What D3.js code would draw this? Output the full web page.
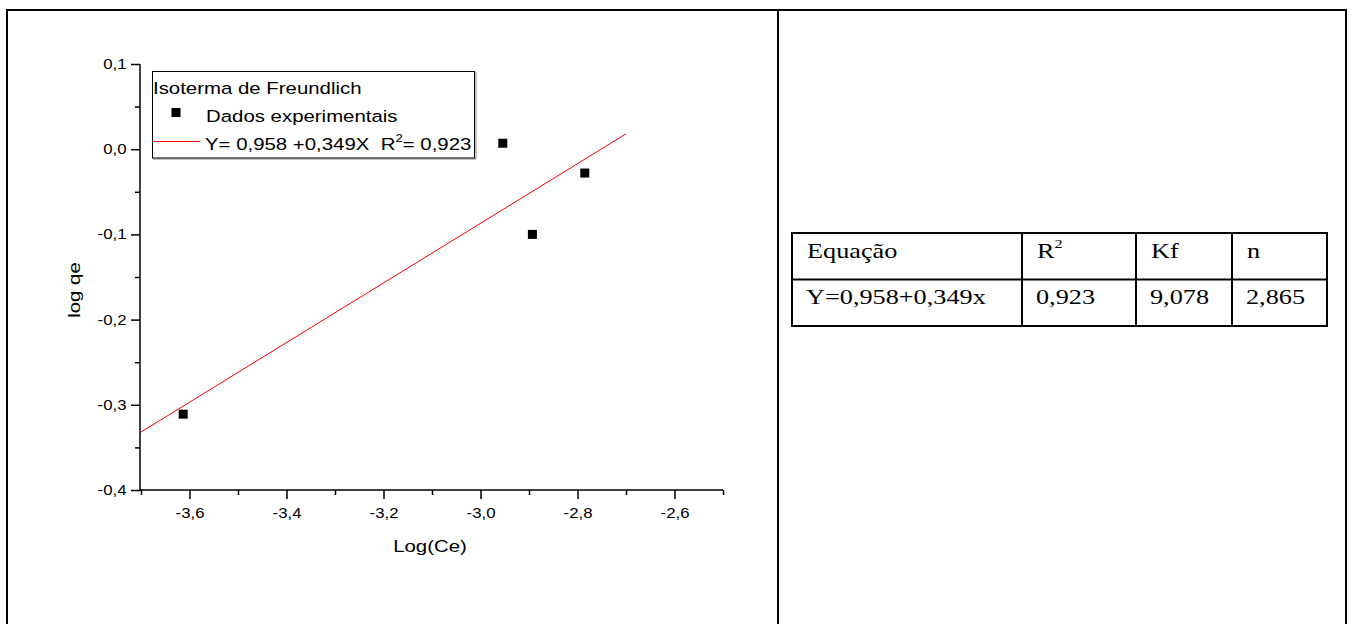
<!DOCTYPE html>
<html>
<head>
<meta charset="utf-8">
<script src="https://cdn.jsdelivr.net/npm/d3@7"></script>
<style>
  body { margin: 0; background: #fff; }
  svg text { white-space: pre; }
</style>
</head>
<body>
<svg id="chart" width="1352" height="624"></svg>
<script>
// data
const logCe = [-3.613, -2.954, -2.893, -2.785];
const logQe = [-0.311, 0.007, -0.100, -0.028];
const fitX = [-3.7, -2.7];
const fitY = [-0.332, 0.018];
const xMajor = [-3.6, -3.4, -3.2, -3.0, -2.8, -2.6];
const xMinor = [-3.7, -3.5, -3.3, -3.1, -2.9, -2.7, -2.5];
const yMajor = [-0.4, -0.3, -0.2, -0.1, 0.0, 0.1];
const yMinor = [-0.35, -0.25, -0.15, -0.05, 0.05];
const legendTitle = 'Isoterma de Freundlich';
const legendPoints = 'Dados experimentais';
const legendFit = ['Y= 0,958 +0,349X  R', '2', '= 0,923'];
const tableHeaders = ['Equação', 'R', 'Kf', 'n'];
const tableValues = ['Y=0,958+0,349x', '0,923', '9,078', '2,865'];

const svg = d3.select('#chart');
const sans = "'Liberation Sans', Arial, sans-serif";
const serif = "'Liberation Serif', 'Times New Roman', serif";

// text in the source is a bit wider than normal, stretch it
const stext = (parent, x, y, str, size, sx, family, anchor) => {
  let g = parent.append('g')
    .attr('transform', `translate(${x},${y}) scale(${sx},1)`);
  return g.append('text')
    .attr('font-family', family)
    .attr('font-size', size)
    .attr('text-anchor', anchor || 'start')
    .attr('fill', '#000')
    .text(str);
};

// outer frame
const frame = svg.append('g').attr('stroke', '#000').attr('stroke-width', 2);
frame.append('line').attr('x1', 6).attr('y1', 10).attr('x2', 1347).attr('y2', 10);
frame.append('line').attr('x1', 7).attr('y1', 10).attr('x2', 7).attr('y2', 624);
frame.append('line').attr('x1', 778).attr('y1', 10).attr('x2', 778).attr('y2', 624);
frame.append('line').attr('x1', 1346).attr('y1', 10).attr('x2', 1346).attr('y2', 624);

// scales
const x = d3.scaleLinear().domain([-3.7, -2.5]).range([141, 723]);
const y = d3.scaleLinear().domain([-0.4, 0.1]).range([490, 64]);
const fmt = d => d.toFixed(1).replace('.', ',');

// minor ticks
svg.append('g')
  .attr('transform', 'translate(0,490)')
  .call(d3.axisBottom(x).tickValues(xMinor).tickSize(5).tickSizeOuter(0).tickFormat(''))
  .call(g => g.select('.domain').remove())
  .selectAll('line').attr('stroke-width', 1.5);
svg.append('g')
  .attr('transform', 'translate(140,0)')
  .call(d3.axisLeft(y).tickValues(yMinor).tickSize(5).tickSizeOuter(0).tickFormat(''))
  .call(g => g.select('.domain').remove())
  .selectAll('line').attr('stroke-width', 1.5);

// major axes
const xAxis = svg.append('g')
  .attr('transform', 'translate(0,490)')
  .call(d3.axisBottom(x).tickValues(xMajor).tickSize(9).tickPadding(9).tickSizeOuter(0).tickFormat(fmt));
xAxis.select('.domain').attr('stroke-width', 1.5).attr('d', `M${x(-3.7) - 1},0H${x(-2.5)}`);
xAxis.selectAll('line').attr('stroke-width', 1.5);
xAxis.selectAll('text')
  .attr('font-family', sans).attr('font-size', 14)
  .attr('transform', 'scale(1.2,1)');

const yAxis = svg.append('g')
  .attr('transform', 'translate(140,0)')
  .call(d3.axisLeft(y).tickValues(yMajor).tickSize(9).tickSizeOuter(0).tickFormat(fmt));
yAxis.select('.domain').attr('stroke-width', 1.5).attr('d', `M0,${y(0.1)}V${y(-0.4) + 1}`);
yAxis.selectAll('line').attr('stroke-width', 1.5);
yAxis.selectAll('text')
  .attr('font-family', sans).attr('font-size', 14)
  .attr('x', -13.5 / 1.2)
  .attr('transform', 'scale(1.2,1)');

// axis titles
stext(svg, 430, 552, 'Log(Ce)', 17, 1.2, sans, 'middle');
svg.append('g')
  .attr('transform', 'translate(80,290) rotate(-90)')
  .call(g => stext(g, 0, 0, 'log qe', 17, 1.2, sans, 'middle'));

// fit line
svg.append('line')
  .attr('x1', x(fitX[0])).attr('y1', y(fitY[0]))
  .attr('x2', x(fitX[1])).attr('y2', y(fitY[1]))
  .attr('stroke', '#ff0000')
  .attr('stroke-width', 1);

// data points
svg.append('g')
  .selectAll('rect')
  .data(logCe.map((v, i) => [v, logQe[i]]))
  .join('rect')
  .attr('x', d => x(d[0]) - 4.5)
  .attr('y', d => y(d[1]) - 4.5)
  .attr('width', 9)
  .attr('height', 9)
  .attr('fill', '#000');

// legend
const leg = svg.append('g');
leg.append('line').attr('x1', 153).attr('y1', 159).attr('x2', 476).attr('y2', 159)
  .attr('stroke', '#888').attr('stroke-width', 1);
leg.append('line').attr('x1', 476).attr('y1', 72).attr('x2', 476).attr('y2', 159)
  .attr('stroke', '#888').attr('stroke-width', 1);
leg.append('rect')
  .attr('x', 152.5).attr('y', 71.5).attr('width', 322).attr('height', 86.5)
  .attr('fill', '#fff').attr('stroke', '#000').attr('stroke-width', 1);
stext(leg, 153, 93.5, legendTitle, 17, 1.2, sans);
leg.append('rect').attr('x', 171.5).attr('y', 108).attr('width', 9).attr('height', 9).attr('fill', '#000');
stext(leg, 206, 121.5, legendPoints, 17, 1.2, sans);
leg.append('line').attr('x1', 153).attr('y1', 141.5).attr('x2', 200).attr('y2', 141.5)
  .attr('stroke', '#ff0000').attr('stroke-width', 1);
const fitLabel = stext(leg, 205, 150, '', 17, 1.2, sans);
fitLabel.append('tspan').text(legendFit[0]);
fitLabel.append('tspan').attr('font-size', 11).attr('dy', -8).text(legendFit[1]);
fitLabel.append('tspan').attr('dy', 8).text(legendFit[2]);

// table
const colEdges = [792, 1022, 1136, 1232, 1327];
const rowEdges = [233, 279.5, 326];
const tbl = svg.append('g');
tbl.append('g').attr('stroke', '#000').attr('stroke-width', 2)
  .selectAll('line.h').data(rowEdges).join('line')
  .attr('x1', colEdges[0] - 1).attr('x2', colEdges[4] + 1)
  .attr('y1', d => d).attr('y2', d => d);
tbl.append('g').attr('stroke', '#000').attr('stroke-width', 2)
  .selectAll('line.v').data(colEdges).join('line')
  .attr('x1', d => d).attr('x2', d => d)
  .attr('y1', rowEdges[0]).attr('y2', rowEdges[2]);

tableHeaders.forEach((h, i) => {
  const t = stext(tbl, colEdges[i] + 15, 257.5, h, 21, 1.25, serif);
  if (h === 'R') {
    t.append('tspan').attr('font-size', 13).attr('dy', -10).text('2');
  }
});
tableValues.forEach((v, i) => {
  stext(tbl, colEdges[i] + 14, 303.5, v, 21, 1.25, serif);
});
</script>
</body>
</html>
